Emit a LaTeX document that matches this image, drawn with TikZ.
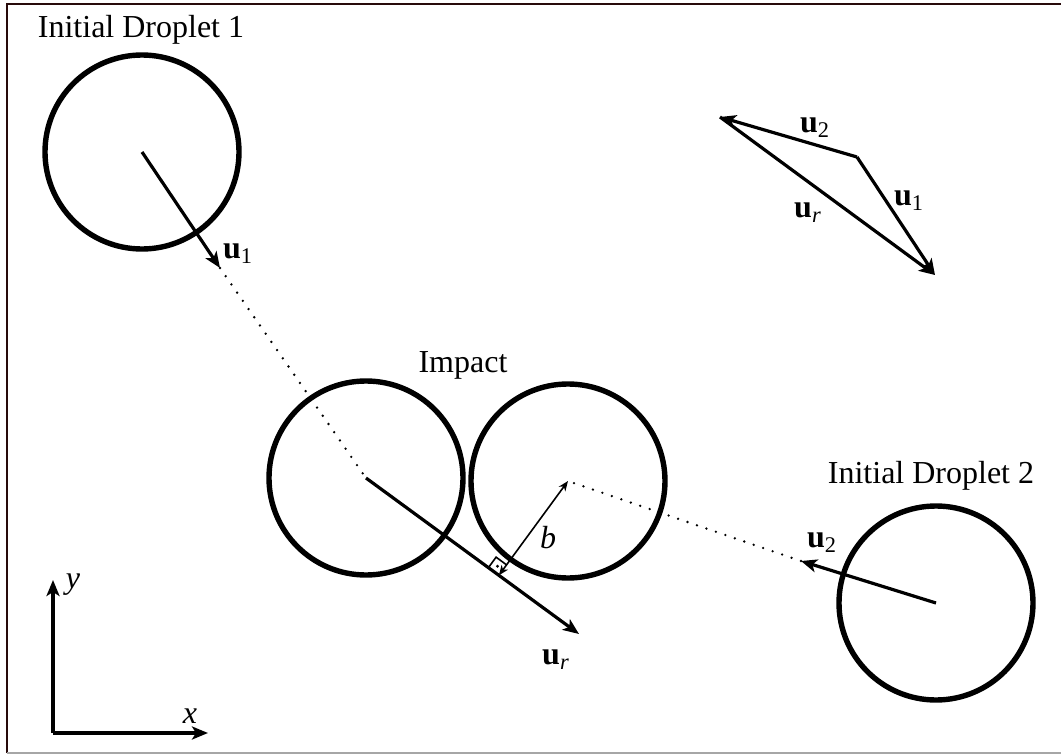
\documentclass[tikz,border=0pt]{standalone}
\usepackage{fontspec}
\setmainfont{Liberation Serif}
\usetikzlibrary{arrows.meta,calc}

\begin{document}
\begin{tikzpicture}[
    x=0.5pt, y=-0.5pt,
    every node/.style={font=\fontsize{16}{19}\selectfont, inner sep=1pt},
    drop/.style={draw, circle, line width=2.7pt, minimum size=97pt, inner sep=0pt},
    vec/.style={-{Stealth[length=8pt,width=6.5pt,inset=2pt]}, line width=1.6pt},
    track/.style={line width=1.3pt, line cap=round, dash pattern=on 0pt off 5pt},
    barr/.style={{Stealth[length=5pt,width=4pt,inset=1.5pt]}-{Stealth[length=5pt,width=4pt,inset=1.5pt]}, line width=0.8pt},
]
\useasboundingbox (0,0) rectangle (1061,755);
% Frame
\draw[line width=1pt, color={rgb,255:red,40;green,10;blue,10}] (7,753) -- (7,4) -- (1061,4);
\draw[line width=0.8pt, gray!70] (7,753) -- (1061,753);

% Droplets
\node (drop1) [drop] at (142,152) {};
\node (impL) [drop] at (366,478) {};
\node (impR) [drop] at (568,481) {};
\node (drop2) [drop] at (936,603) {};

\node (lab1) at (141,30) {Initial Droplet 1};
\node (labimp) at (463,365) {Impact};
\node (lab2) at (931,476) {Initial Droplet 2};

% Velocities
\coordinate (u1tip) at (220,268);
\coordinate (u2tip) at (801,561);
\coordinate (urtip) at (579,634);
\draw[vec] (drop1.center) -- (u1tip);
\draw[vec] (drop2.center) -- (u2tip);
\draw[vec] (impL.center) -- (urtip);
\draw[track] (u1tip) -- (impL.center);
\draw[track] (u2tip) -- (impR.center);
\node (lu1) at (238,254) {\textbf{u}\textsubscript{1}};
\node (lu2) at (822,543) {\textbf{u}\textsubscript{2}};
\node (lur) at (556,660) {\textbf{u}\textsubscript{\textit{r}}};

% Impact parameter
\coordinate (foot) at ($(impL.center)!(impR.center)!(urtip)$);
\draw[barr] (foot) -- (impR.center);
\node (lb) at (548,538) {\textit{b}};
\coordinate (sq1) at ($(foot)!6.5pt!(impL.center)$);
\coordinate (sq2) at ($(foot)!6.5pt!(impR.center)$);
\draw[line width=0.8pt] (sq1) -- ($(sq1)+(sq2)-(foot)$) -- (sq2);
\fill ($(sq1)!0.5!(sq2)$) circle[radius=0.8pt];

% Vector triangle
\coordinate (apex) at (857,157);
\coordinate (t2) at (720,117);
\coordinate (t1) at (935,275);
\draw[vec] (apex) -- (t2);
\draw[vec] (apex) -- (t1);
\draw[vec] (t2) -- (t1);
\node (tu2) at (815,128) {\textbf{u}\textsubscript{2}};
\node (tu1) at (909,201) {\textbf{u}\textsubscript{1}};
\node (tur) at (808,213) {\textbf{u}\textsubscript{\textit{r}}};

% Axes
\coordinate (orig) at (53,733);
\coordinate (xtip) at (208,733);
\coordinate (ytip) at (53,580);
\draw[vec] (orig) -- (xtip);
\draw[vec] (orig) -- (ytip);
\node (lx) at (190,716) {\textit{x}};
\node (ly) at (73,585) {\textit{y}};
\end{tikzpicture}
\end{document}
